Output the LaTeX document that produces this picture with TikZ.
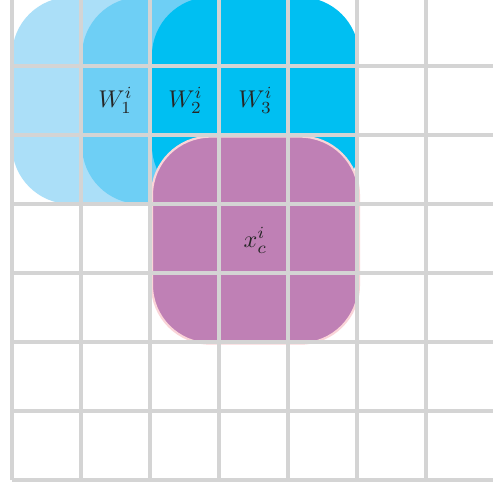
\documentclass[tikz,border=0pt]{standalone}
\usepackage{amsmath,amssymb}
\usepackage{xcolor}
\usetikzlibrary{positioning}
\definecolor{cyanlight}{RGB}{171,223,248}
\definecolor{cyanmid}{RGB}{110,207,245}
\definecolor{cyanfull}{RGB}{0,191,242}
\definecolor{kernelfill}{RGB}{191,128,181}
\definecolor{kernelrim}{RGB}{250,212,216}
\tikzset{
  window/.style={rectangle, rounded corners=0.85cm, minimum width=3cm,
                 minimum height=3cm, inner sep=0pt, draw=none},
  kernel/.style={window, draw=kernelrim, line width=0.9pt, fill=kernelfill},
  gridline/.style={draw=black!17, line width=1.45pt},
  tag/.style={font=\normalsize, text=black!85, inner sep=1pt},
}

\begin{document}
\begin{tikzpicture}
  \clip (-0.174,-0.101) rectangle (6.971,6.957);
  \fill[white] (-0.174,-0.101) rectangle (6.971,6.957);

  % Windows
  \node[window, fill=cyanlight] (win1) at (1.5,5.5) {};
  \node[window, fill=cyanmid, right=-2cm of win1] (win2) {};
  \node[window, fill=cyanfull, right=-2cm of win2] (win3) {};
  \node[kernel, below=-1cm of win3] (center) {};

  % Grid on top
  \draw[gridline] (0,0) grid (7.4,7.4);

  % Labels
  \node[tag] at (win1.center) {$W^i_1$};
  \node[tag] at (win2.center) {$W^i_2$};
  \node[tag] at (win3.center) {$W^i_3$};
  \node[tag] at (center.center) {$x^i_c$};

\end{tikzpicture}
\end{document}
